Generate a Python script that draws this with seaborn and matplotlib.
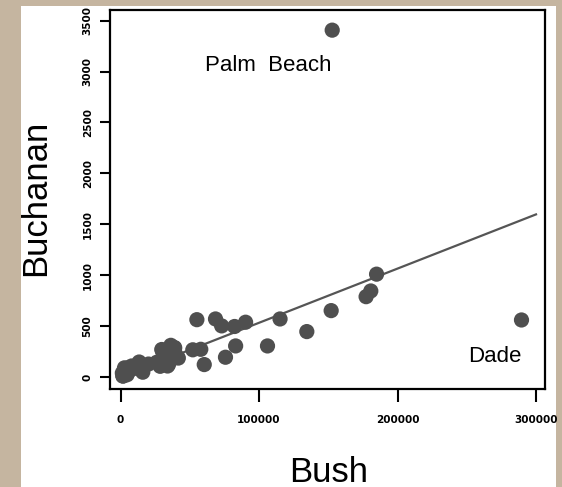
import numpy as np
import pandas as pd
import matplotlib
matplotlib.use("Agg")
import matplotlib.pyplot as plt
import seaborn as sns
from matplotlib.patches import Rectangle

# Florida 2000 presidential vote by county
county = ["Alachua", "Baker", "Bay", "Bradford", "Brevard", "Broward", "Calhoun",
          "Charlotte", "Citrus", "Clay", "Collier", "Columbia", "DeSoto", "Dixie",
          "Duval", "Escambia", "Flagler", "Franklin", "Gadsden", "Gilchrist",
          "Glades", "Gulf", "Hamilton", "Hardee", "Hendry", "Hernando", "Highlands",
          "Hillsborough", "Holmes", "Indian River", "Jackson", "Jefferson",
          "Lafayette", "Lake", "Lee", "Leon", "Levy", "Liberty", "Madison",
          "Manatee", "Marion", "Martin", "Dade", "Monroe", "Nassau", "Okaloosa",
          "Okeechobee", "Orange", "Osceola", "Palm Beach", "Pasco", "Pinellas",
          "Polk", "Putnam", "St. Johns", "St. Lucie", "Santa Rosa", "Sarasota",
          "Seminole", "Sumter", "Suwannee", "Taylor", "Union", "Volusia",
          "Wakulla", "Walton", "Washington"]
bush = [34124, 5610, 38637, 5414, 115185, 177323, 2873, 35426, 29767, 41736,
        60450, 10964, 4256, 2697, 152098, 73017, 12613, 2448, 4770, 3300, 1841,
        3546, 2153, 3764, 4743, 30646, 20196, 180713, 5011, 28627, 9138, 2481,
        1669, 39053, 106123, 39024, 6860, 1316, 3038, 57948, 55135, 33970,
        289533, 16059, 16404, 52186, 5057, 134517, 26212, 152846, 68582, 184884,
        90310, 13457, 39564, 34705, 36339, 83117, 75790, 12127, 8006, 4056, 2332,
        82368, 4512, 12182, 4994]
buchanan = [263, 73, 248, 65, 570, 789, 90, 182, 270, 186, 122, 89, 36, 29, 652,
            502, 83, 33, 38, 29, 9, 71, 24, 30, 22, 242, 127, 845, 76, 105, 102,
            29, 10, 289, 305, 282, 67, 39, 29, 272, 563, 108, 560, 47, 90, 267,
            43, 446, 145, 3407, 570, 1010, 538, 147, 229, 124, 311, 305, 194, 114,
            108, 27, 26, 496, 46, 120, 88]

x_ticks = [0, 100000, 200000, 300000]
y_ticks = [0, 500, 1000, 1500, 2000, 2500, 3000, 3500]

df = pd.DataFrame({"county": county, "Bush": bush, "Buchanan": buchanan})

fig = plt.figure(figsize=(5.62, 4.87), dpi=100, facecolor="#c5b5a0")
# white panel on the beige page
fig.add_artist(Rectangle((21 / 562, 0), 535 / 562, 481 / 487,
                         transform=fig.transFigure, facecolor="white",
                         edgecolor="none", zorder=-10))
ax = fig.add_axes([110 / 562, 1 - 389 / 487, 435 / 562, 379 / 487])
ax.set_facecolor("white")

sns.scatterplot(data=df, x="Bush", y="Buchanan", ax=ax, s=120,
                color="#4f4f4f", edgecolor="none", zorder=3)

# least squares line through the origin, drawn over the tick range
xv = df["Bush"].to_numpy(float)
yv = df["Buchanan"].to_numpy(float)
slope = (xv * yv).sum() / (xv * xv).sum()
xs = np.array([x_ticks[0], x_ticks[-1]])
ax.plot(xs, slope * xs, color="#555555", lw=1.6, zorder=2)

ax.text(107000, 3055, "Palm  Beach", fontsize=16, family="Liberation Sans",
        ha="center", va="center")
ax.text(270500, 200, "Dade", fontsize=16, family="Liberation Sans",
        ha="center", va="center")

ax.set_xlim(-7600, 306500)
ax.set_ylim(-118, 3605)
ax.set_xticks(x_ticks)
ax.set_yticks(y_ticks)
ax.set_xticklabels([str(v) for v in x_ticks], fontsize=7.5, fontweight="bold")
ax.set_yticklabels([str(v) for v in y_ticks], fontsize=7.5, fontweight="bold",
                   rotation=90, va="center")
ax.tick_params(axis="both", direction="out", width=1.5, color="black")
ax.tick_params(axis="x", length=9.5, pad=9)
ax.tick_params(axis="y", length=7.5, pad=5)
for sp in ax.spines.values():
    sp.set_linewidth(1.6)
    sp.set_color("black")

ax.set_xlabel("Bush", fontsize=25, family="Liberation Sans")
ax.set_ylabel("Buchanan", fontsize=25, family="Liberation Sans")
ax.xaxis.set_label_coords(0.502, -0.219)
ax.yaxis.set_label_coords(-0.172, 0.504)
ax.xaxis.label.set_va("center")
ax.yaxis.label.set_va("center")

fig.savefig("out.png", dpi=100, facecolor=fig.get_facecolor())
